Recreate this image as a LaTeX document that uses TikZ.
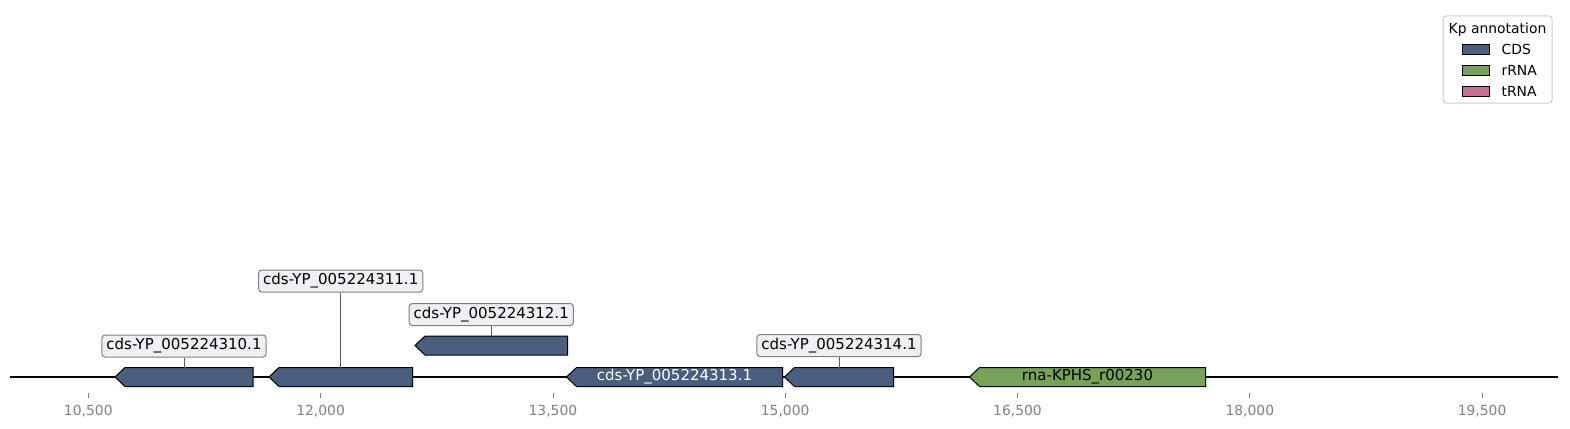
\documentclass[tikz,border=0pt]{standalone}
\usepackage{fontspec}
\setmainfont{DejaVu Sans}
\usepackage{tikz}
\usetikzlibrary{positioning}
\definecolor{cdsblue}{HTML}{4A5E7E}
\definecolor{rrnagreen}{HTML}{76A25A}
\definecolor{trnapink}{HTML}{C87094}
\definecolor{lblfill}{HTML}{EFEFF4}
\definecolor{axisgray}{HTML}{808080}
\tikzstyle{gene} = [draw=black, line width=1pt, line join=miter]
\tikzstyle{lbl} = [draw=axisgray, fill=lblfill, rounded corners=3pt, inner xsep=4.5pt, inner ysep=3.5pt, line width=1pt, font=\fontsize{15}{18}\selectfont]
\tikzstyle{leader} = [draw=black!65, line width=0.8pt]
\tikzstyle{track} = [draw=black, line width=1.6pt]
\tikzstyle{tick} = [draw=axisgray, line width=0.8pt]
\tikzstyle{ticklabel} = [text=axisgray, font=\fontsize{13.9}{16}\selectfont]
\tikzstyle{inlabel} = [font=\fontsize{15}{18}\selectfont, inner sep=0]
\tikzstyle{patch} = [draw=black, line width=0.8pt, minimum width=27pt, minimum height=10pt, inner sep=0]
\tikzstyle{legendtext} = [font=\fontsize{13.9}{16}\selectfont, anchor=west, inner sep=0]
% gene feature, pointing left: name, tip x, end x, centre y, colour
\newcommand{\genearrow}[5]{%
  \draw[gene, fill=#5] (#2,#4) -- (#2+10,#4-9.5) -- (#3,#4-9.5) -- (#3,#4+9.5) -- (#2+10,#4+9.5) -- cycle;
  \coordinate (#1) at ({(#2+#3)/2},#4);
  \coordinate (#1-top) at ({(#2+#3)/2},#4-9.5);}

\begin{document}
\begin{tikzpicture}[x=1pt, y=-1pt]
  \useasboundingbox (0,0) rectangle (1570,428);

  % track
  \coordinate (trackL) at (10,377);
  \coordinate (trackR) at (1558,377);
  \draw[track] (trackL) -- (trackR);

  % features
  \genearrow{cds310}{115}{253}{377}{cdsblue}
  \genearrow{cds311}{269}{412.5}{377}{cdsblue}
  \genearrow{cds312}{415}{567.5}{345.5}{cdsblue}
  \genearrow{cds313}{566.5}{782.5}{377}{cdsblue}
  \genearrow{cds314}{784.5}{893.5}{377}{cdsblue}
  \genearrow{rna230}{969.5}{1205.5}{377}{rrnagreen}

  \node[inlabel, text=white] (t313) at (cds313) {cds-YP\_005224313.1};
  \node[inlabel, text=black] (t230) at (rna230) {rna-KPHS\_r00230};

  % labels
  \node[lbl, above=10pt of cds310-top] (l310) {cds-YP\_005224310.1};
  \node[lbl, above=75pt of cds311-top] (l311) {cds-YP\_005224311.1};
  \node[lbl, above=10pt of cds312-top] (l312) {cds-YP\_005224312.1};
  \node[lbl, above=10.5pt of cds314-top] (l314) {cds-YP\_005224314.1};

  \draw[leader] (l310.south) -- (cds310-top);
  \draw[leader] (l311.south) -- (cds311-top);
  \draw[leader] (l312.south) -- (cds312-top);
  \draw[leader] (l314.south) -- (cds314-top);

  % axis
  \foreach \i/\lab in {0/{10,500}, 1/{12,000}, 2/{13,500}, 3/{15,000}, 4/{16,500}, 5/{18,000}, 6/{19,500}} {
    \pgfmathsetmacro\tx{88.3+\i*232.3}
    \draw[tick] (\tx,393) -- (\tx,398);
    \node[ticklabel] (tk\i) at (\tx,411.5) {\lab};
  }

  % legend
  \node[draw=black!20, line width=1pt, rounded corners=3pt, fill=white, minimum width=109pt, minimum height=87pt] (legend) at (1497.5,59.5) {};
  \node[font=\fontsize{13.9}{16}\selectfont, inner sep=0] (legtitle) at (1497.5,29.5) {Kp annotation};
  \node[patch, fill=cdsblue] (pcds) at (1475.5,49) {};
  \node[patch, fill=rrnagreen] (prrna) at (1475.5,70) {};
  \node[patch, fill=trnapink] (ptrna) at (1475.5,91) {};
  \node[legendtext, right=12pt of pcds] (lcds) {CDS};
  \node[legendtext, right=12pt of prrna] (lrrna) {rRNA};
  \node[legendtext, right=12pt of ptrna] (ltrna) {tRNA};
\end{tikzpicture}
\end{document}
